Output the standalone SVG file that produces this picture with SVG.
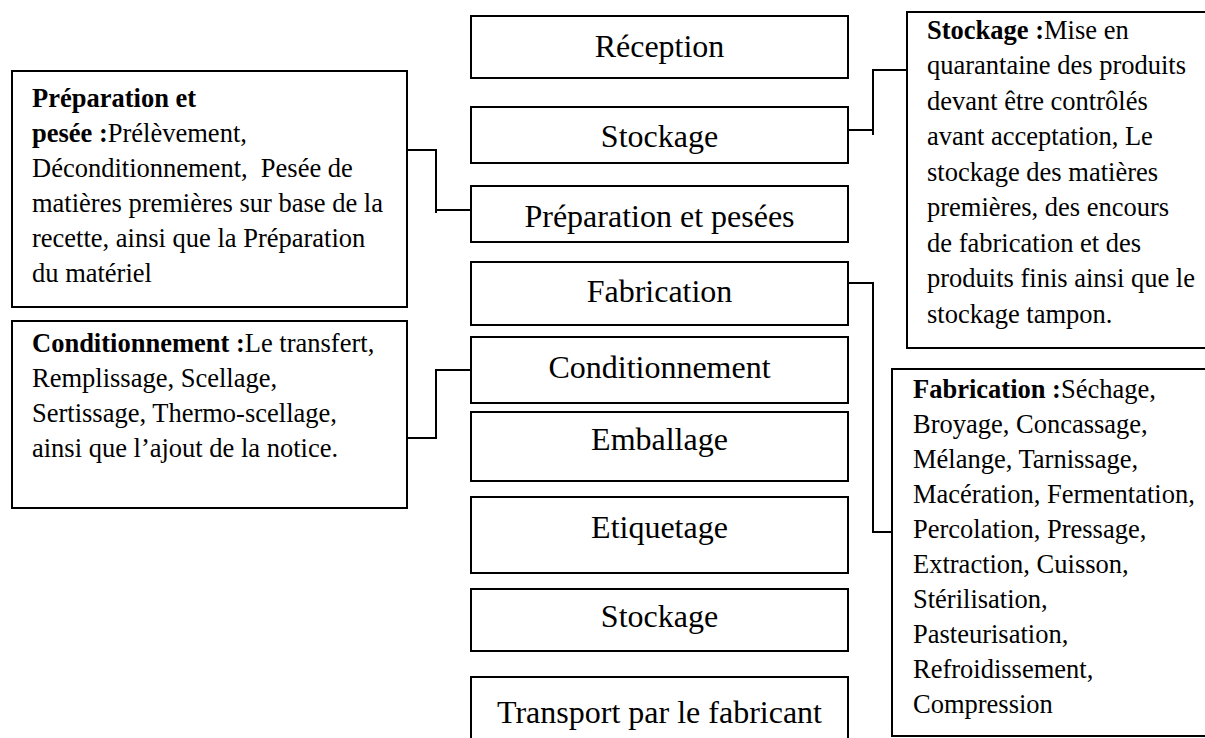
<svg xmlns="http://www.w3.org/2000/svg" width="1205" height="738" viewBox="0 0 1205 738">
<style>
rect{fill:#fff;stroke:#000;stroke-width:2}
.c{font-family:"Liberation Serif","Times New Roman",serif;font-size:32px;text-anchor:middle;fill:#000}
.t{font-family:"Liberation Serif","Times New Roman",serif;font-size:26.5px;fill:#000;white-space:pre}
.b{font-weight:bold}
#connectors path{fill:none;stroke:#000;stroke-width:2}
</style>
<rect x="0" y="0" width="1205" height="738" style="stroke:none"/>
<g id="connectors">
<path d="M848,130 H873 M873,135 V70 H907"/>
<path d="M407,150 H436 V213 M436,210 H471"/>
<path d="M471,370 H436 V438 H407"/>
<path d="M848,283 H873 V532 H892"/>
</g>
<g id="reception"><rect x="471" y="16" width="377" height="62"/><text class="c" x="659.5" y="57">Réception</text></g>
<g id="stockage1"><rect x="471" y="107" width="377" height="56"/><text class="c" x="659.5" y="147">Stockage</text></g>
<g id="preparation"><rect x="471" y="186" width="377" height="56"/><text class="c" x="659.5" y="227">Préparation et pesées</text></g>
<g id="fabrication"><rect x="471" y="262" width="377" height="63"/><text class="c" x="659.5" y="302">Fabrication</text></g>
<g id="conditionnement"><rect x="471" y="337" width="377" height="66"/><text class="c" x="659.5" y="378">Conditionnement</text></g>
<g id="emballage"><rect x="471" y="412" width="377" height="69"/><text class="c" x="659.5" y="450">Emballage</text></g>
<g id="etiquetage"><rect x="471" y="497" width="377" height="76"/><text class="c" x="659.5" y="538">Etiquetage</text></g>
<g id="stockage2"><rect x="471" y="589" width="377" height="62"/><text class="c" x="659.5" y="627">Stockage</text></g>
<g id="transport"><rect x="471" y="677" width="377" height="80"/><text class="c" x="659.5" y="723">Transport par le fabricant</text></g>
<g id="note-preparation"><rect x="12" y="71" width="395" height="236"/>
<text class="t" x="32" y="106.5"><tspan class="b">Préparation et</tspan></text>
<text class="t" x="32" y="141.5"><tspan class="b">pesée :</tspan>Prélèvement,</text>
<text class="t" x="32" y="176.5" xml:space="preserve">Déconditionnement,  Pesée de</text>
<text class="t" x="32" y="211.5">matières premières sur base de la</text>
<text class="t" x="32" y="246.5">recette, ainsi que la Préparation</text>
<text class="t" x="32" y="281.5">du matériel</text>
</g>
<g id="note-conditionnement"><rect x="12" y="321" width="395" height="187"/>
<text class="t" x="32" y="352"><tspan class="b">Conditionnement :</tspan>Le transfert,</text>
<text class="t" x="32" y="387">Remplissage, Scellage,</text>
<text class="t" x="32" y="422">Sertissage, Thermo-scellage,</text>
<text class="t" x="32" y="457">ainsi que l’ajout de la notice.</text>
</g>
<g id="note-stockage"><rect x="907" y="12" width="320" height="336"/>
<text class="t" x="927" y="38.5"><tspan class="b">Stockage :</tspan>Mise en</text>
<text class="t" x="927" y="74">quarantaine des produits</text>
<text class="t" x="927" y="109.5">devant être contrôlés</text>
<text class="t" x="927" y="145">avant acceptation, Le</text>
<text class="t" x="927" y="180.5">stockage des matières</text>
<text class="t" x="927" y="216">premières, des encours</text>
<text class="t" x="927" y="251.5">de fabrication et des</text>
<text class="t" x="927" y="287">produits finis ainsi que le</text>
<text class="t" x="927" y="322.5">stockage tampon.</text>
</g>
<g id="note-fabrication"><rect x="892" y="369" width="340" height="367"/>
<text class="t" x="913" y="398"><tspan class="b">Fabrication :</tspan>Séchage,</text>
<text class="t" x="913" y="433">Broyage, Concassage,</text>
<text class="t" x="913" y="468">Mélange, Tarnissage,</text>
<text class="t" x="913" y="503">Macération, Fermentation,</text>
<text class="t" x="913" y="538">Percolation, Pressage,</text>
<text class="t" x="913" y="573">Extraction, Cuisson,</text>
<text class="t" x="913" y="608">Stérilisation,</text>
<text class="t" x="913" y="643">Pasteurisation,</text>
<text class="t" x="913" y="678">Refroidissement,</text>
<text class="t" x="913" y="713">Compression</text>
</g>
</svg>
